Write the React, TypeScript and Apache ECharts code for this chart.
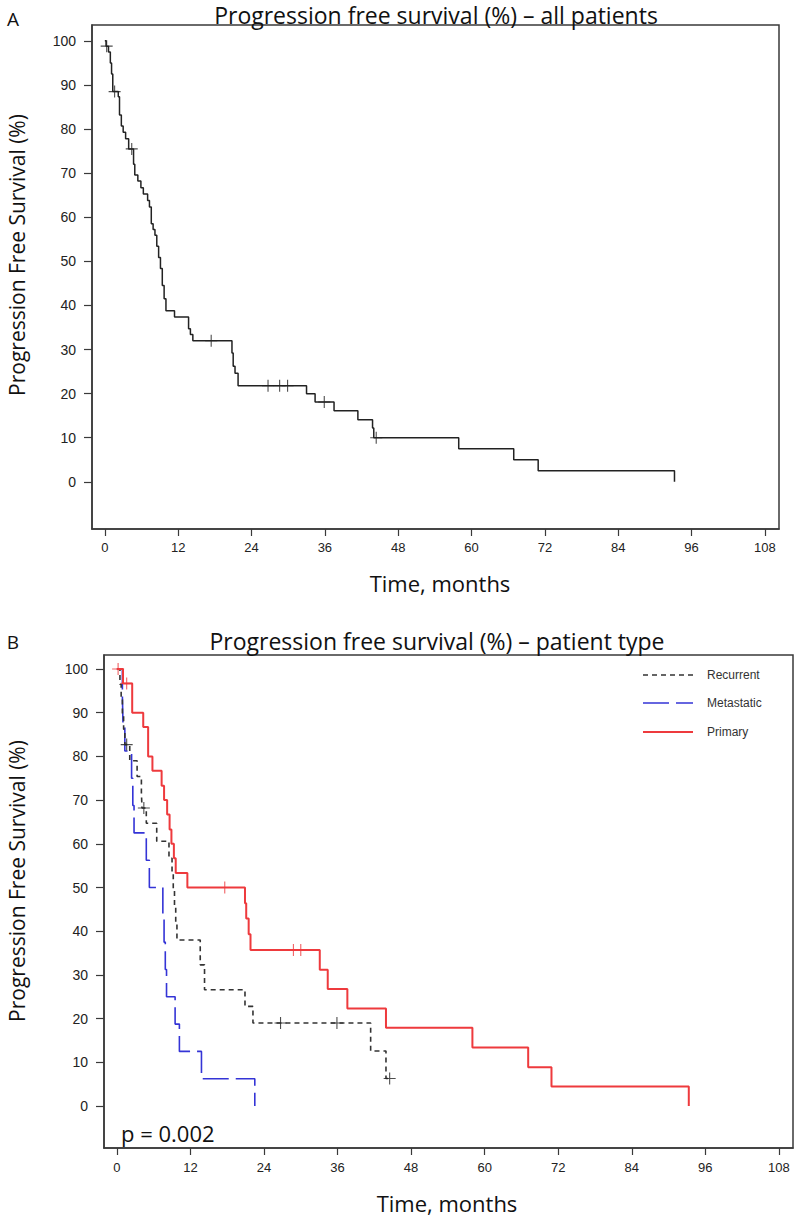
import React, { useEffect, useRef } from "react";
import * as echarts from "echarts";

// ---------- Panel A: all patients ----------
const aTime = [0, 0.2, 0.6, 0.9, 1.1, 1.3, 2.2, 2.4, 2.7, 3.0, 3.4, 3.9, 4.7, 4.9, 5.4, 5.9, 6.3, 7.0, 7.3, 7.6, 7.9, 8.2, 8.5, 8.8, 9.1, 9.4, 9.7, 10.0, 11.4, 13.7, 14.0, 14.4, 20.8, 21.0, 21.3, 21.8, 33.0, 34.4, 37.5, 41.4, 43.8, 44.0, 57.9, 66.9, 70.9, 93.2];
const aSurv = [100, 98.8, 97.5, 95.0, 92.5, 88.5, 87.3, 83.2, 80.7, 79.3, 77.8, 75.5, 72.0, 69.6, 68.2, 66.7, 65.3, 63.8, 62.3, 58.5, 57.2, 55.9, 53.4, 50.9, 48.4, 44.5, 41.5, 38.8, 37.4, 34.7, 33.4, 32.0, 29.2, 26.2, 24.6, 21.8, 20.0, 18.1, 16.1, 14.1, 12.2, 10.0, 7.5, 5.0, 2.5, 0];
const aCensTime = [0.3, 1.6, 4.4, 17.4, 26.7, 28.6, 29.9, 35.9, 44.4];
const aCensSurv = [98.8, 88.5, 75.5, 32.0, 21.8, 21.8, 21.8, 18.1, 10.0];

// ---------- Panel B: patient type ----------
const recTime = [0, 0.5, 0.7, 0.9, 1.1, 1.3, 2.1, 3.3, 4.0, 4.1, 4.8, 6.5, 8.5, 9.0, 9.2, 9.4, 9.6, 9.8, 13.6, 14.3, 20.9, 22.2, 41.4, 43.9, 44.5];
const recSurv = [100, 96.5, 93.1, 89.6, 86.2, 82.7, 79.0, 75.4, 71.7, 68.2, 64.7, 60.6, 56.7, 53.2, 49.4, 45.6, 41.8, 38.0, 32.3, 26.6, 22.8, 19.0, 12.6, 6.3, 6.3];
const recCensTime = [1.6, 4.4, 26.7, 35.9, 44.5];
const recCensSurv = [82.7, 68.2, 19.0, 19.0, 6.3];

const metTime = [0, 0.9, 1.0, 1.3, 2.4, 2.6, 2.8, 4.8, 5.3, 7.5, 7.7, 7.9, 8.1, 9.5, 10.2, 13.8, 22.5];
const metSurv = [100, 93.75, 87.5, 81.25, 75, 68.75, 62.5, 56.25, 50, 43.75, 37.5, 31.25, 25, 18.75, 12.5, 6.25, 0];

const priTime = [0, 1.0, 2.5, 4.3, 5.1, 5.8, 7.3, 7.7, 8.2, 8.6, 8.9, 9.3, 9.6, 11.5, 20.9, 21.1, 21.5, 21.8, 33.1, 34.4, 37.6, 43.9, 58.0, 67.1, 70.9, 93.3];
const priSurv = [100, 96.7, 90.0, 86.7, 80.0, 76.7, 73.3, 70.0, 66.7, 63.3, 60.0, 56.7, 53.3, 50.0, 46.4, 42.9, 39.3, 35.7, 31.2, 26.8, 22.3, 17.9, 13.4, 8.9, 4.5, 0];
const priCensTime = [0.2, 1.6, 17.6, 28.8, 30.0];
const priCensSurv = [100, 96.7, 50.0, 35.7, 35.7];

const seriesNames = ["Recurrent", "Metastatic", "Primary"];
const xTicks = [0, 12, 24, 36, 48, 60, 72, 84, 96, 108];
const yTicks = [0, 10, 20, 30, 40, 50, 60, 70, 80, 90, 100];

const zip = (t: number[], s: number[]) => t.map((v, i) => [v, s[i]]);

const TICK_FONT = "'Liberation Sans', Arial, sans-serif";
const TEXT_FONT = "'Open Sans', 'Noto Sans', sans-serif";
const AXIS_COLOR = "#3a3a3a";
const PLUS = "path://M5,0L5,10M0,5L10,5";

const RED = "#ee3a3d";
const BLUE = "#3434d6";
const BLACK = "#333333";

function xAxisCfg(gridIndex: number, margin: number) {
  return {
    type: "value",
    gridIndex,
    min: -2.1,
    max: 110.3,
    axisLine: { show: true, onZero: false, lineStyle: { color: AXIS_COLOR, width: 1.5 } },
    axisTick: { show: true, customValues: xTicks, length: 7, lineStyle: { color: AXIS_COLOR, width: 1.2 } },
    axisLabel: { customValues: xTicks, fontSize: 13, fontFamily: TICK_FONT, color: "#222", margin },
    splitLine: { show: false },
  };
}

function yAxisCfg(gridIndex: number, min: number, max: number) {
  return {
    type: "value",
    gridIndex,
    min,
    max,
    axisLine: { show: true, onZero: false, lineStyle: { color: AXIS_COLOR, width: 1.5 } },
    axisTick: { show: true, customValues: yTicks, length: 8, lineStyle: { color: AXIS_COLOR, width: 1.2 } },
    axisLabel: { customValues: yTicks, fontSize: 14, fontFamily: TICK_FONT, color: "#222", margin: 16 },
    splitLine: { show: false },
  };
}

function censor(xi: number, data: number[][], color: string) {
  return {
    type: "scatter",
    xAxisIndex: xi,
    yAxisIndex: xi,
    data,
    symbol: PLUS,
    symbolSize: 12,
    silent: true,
    itemStyle: { color: "transparent", borderColor: color, borderWidth: 1.1 },
    z: 5,
  };
}

function text(x: number, y: number, t: string, size: number, extra: any = {}) {
  return {
    type: "text",
    x,
    y,
    ...extra,
    style: {
      text: t,
      fontSize: size,
      fontFamily: TEXT_FONT,
      fill: "#111",
      align: "center",
      verticalAlign: "middle",
      ...(extra.style || {}),
    },
  };
}

export default function App() {
  const ref = useRef<HTMLDivElement>(null);

  useEffect(() => {
    if (!ref.current) return;
    const chart = echarts.init(ref.current, null, { renderer: "svg" });

    const legendY = [675, 703, 732];
    const legendStyles = [
      { stroke: BLACK, lineWidth: 1.6, lineDash: [5, 4] },
      { stroke: BLUE, lineWidth: 1.6, lineDash: [26, 7] },
      { stroke: RED, lineWidth: 2, lineDash: null },
    ];

    const option: any = {
      animation: false,
      backgroundColor: "#ffffff",
      grid: [
        { left: 92, top: 25, width: 687, height: 504, show: true, borderColor: AXIS_COLOR, borderWidth: 1.5, backgroundColor: "transparent" },
        { left: 104, top: 655, width: 689, height: 493, show: true, borderColor: AXIS_COLOR, borderWidth: 1.5, backgroundColor: "transparent" },
      ],
      xAxis: [xAxisCfg(0, 12), xAxisCfg(1, 13)],
      yAxis: [yAxisCfg(0, -10.7, 103.6), yAxisCfg(1, -9.6, 103.2)],
      series: [
        {
          type: "line",
          name: "All patients",
          xAxisIndex: 0,
          yAxisIndex: 0,
          data: zip(aTime, aSurv),
          step: "end",
          symbol: "none",
          silent: true,
          lineStyle: { color: "#222", width: 1.5 },
        },
        censor(0, zip(aCensTime, aCensSurv), "#222"),
        {
          type: "line",
          name: seriesNames[0],
          xAxisIndex: 1,
          yAxisIndex: 1,
          data: zip(recTime, recSurv),
          step: "end",
          symbol: "none",
          silent: true,
          lineStyle: { color: BLACK, width: 1.6, type: [5, 4] },
          z: 3,
        },
        {
          type: "line",
          name: seriesNames[1],
          xAxisIndex: 1,
          yAxisIndex: 1,
          data: zip(metTime, metSurv),
          step: "end",
          symbol: "none",
          silent: true,
          lineStyle: { color: BLUE, width: 1.6, type: [26, 7] },
          z: 2,
        },
        {
          type: "line",
          name: seriesNames[2],
          xAxisIndex: 1,
          yAxisIndex: 1,
          data: zip(priTime, priSurv),
          step: "end",
          symbol: "none",
          silent: true,
          lineStyle: { color: RED, width: 2 },
          z: 4,
        },
        censor(1, zip(recCensTime, recCensSurv), "#222"),
        censor(1, zip(priCensTime, priCensSurv), RED),
      ],
      graphic: [
        text(13, 19, "A", 19),
        text(13, 642, "B", 19),
        text(436, 15, "Progression free survival (%) – all patients", 23),
        text(437, 641, "Progression free survival (%) – patient type", 23),
        text(17, 255, "Progression Free Survival (%)", 21, { rotation: Math.PI / 2 }),
        text(17, 881, "Progression Free Survival (%)", 21, { rotation: Math.PI / 2 }),
        text(440, 583, "Time, months", 22),
        text(447, 1203, "Time, months", 22),
        text(121, 1133, "p = 0.002", 22, { style: { align: "left" } }),
        ...seriesNames.map((n, i) => ({
          type: "line",
          shape: { x1: 643, y1: legendY[i], x2: 693, y2: legendY[i] },
          style: legendStyles[i],
        })),
        ...seriesNames.map((n, i) => ({
          type: "text",
          x: 707,
          y: legendY[i],
          style: {
            text: n,
            fontSize: 12,
            fontFamily: TICK_FONT,
            fill: "#333",
            align: "left",
            verticalAlign: "middle",
          },
        })),
      ],
    };

    chart.setOption(option);
    return () => chart.dispose();
  }, []);

  return (
    <div
      ref={ref}
      style={{ position: "absolute", left: 0, top: 0, width: 796, height: 1219, background: "#fff" }}
    />
  );
}
